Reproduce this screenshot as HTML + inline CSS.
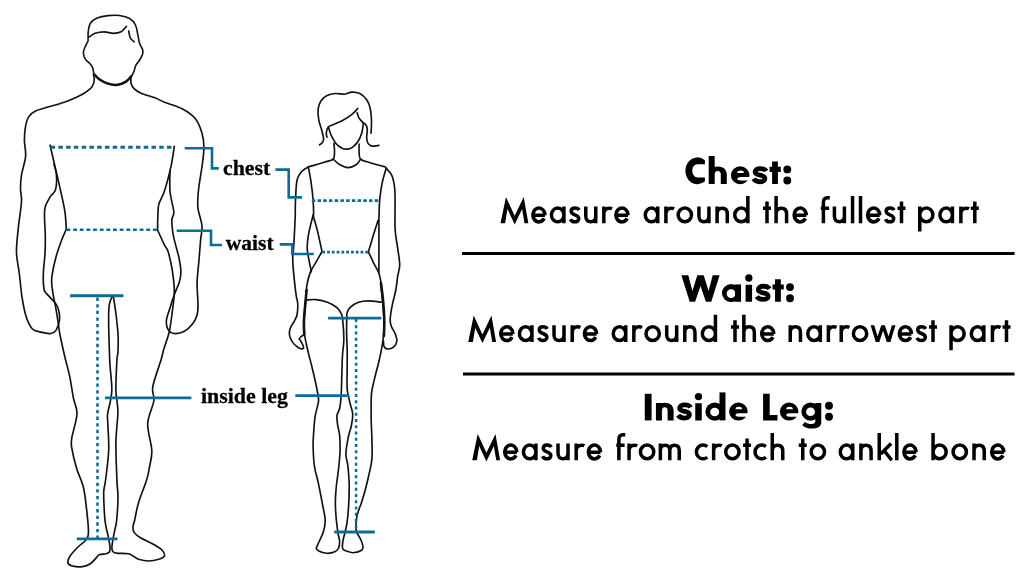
<!DOCTYPE html>
<html><head><meta charset="utf-8">
<style>
html,body{margin:0;padding:0;background:#fff;}
body{width:1024px;height:586px;overflow:hidden;position:relative;}
svg{position:absolute;left:0;top:0;will-change:transform;}
</style></head><body>
<svg width="1024" height="586" viewBox="0 0 1024 586">
<g fill="none" stroke="#111" stroke-linecap="round" stroke-linejoin="round">
<path d="M88.1,41.0C88.1,39.3 87.9,34.0 88.3,31.0C88.7,28.0 89.1,25.2 90.6,23.0C92.1,20.8 94.3,19.2 97.2,18.0C100.1,16.8 104.3,16.0 108.0,15.6C111.7,15.2 115.9,15.0 119.5,15.5C123.1,16.0 126.9,16.9 129.6,18.5C132.3,20.1 134.1,22.1 135.5,25.0C136.9,27.9 137.3,32.6 138.0,35.6C138.7,38.6 138.7,41.0 139.5,43.3C140.3,45.6 142.1,47.7 142.6,49.5C143.1,51.3 143.1,52.3 142.6,54.1C142.1,55.9 140.7,58.3 139.5,60.2C138.3,62.1 136.6,63.8 135.7,65.6C134.8,67.4 134.8,69.3 134.1,71.0C133.4,72.7 133.2,73.8 131.8,75.6C130.4,77.4 128.2,80.2 125.7,81.7C123.2,83.2 119.6,84.5 116.5,84.8C113.4,85.0 110.0,84.1 107.2,83.2C104.4,82.3 101.8,80.9 99.6,79.4C97.4,77.9 95.3,75.9 94.2,74.0C93.1,72.1 93.5,69.7 92.7,67.9C91.9,66.1 90.9,64.8 89.6,63.3C88.3,61.8 86.0,60.5 85.0,58.7C84.0,56.9 83.4,54.4 83.4,52.5C83.4,50.6 84.2,49.1 85.0,47.2C85.8,45.3 87.6,42.0 88.1,41.0" stroke-width="1.6"/>
<path d="M95.0,75.0C95.8,75.8 97.6,78.2 99.6,79.6C101.6,81.0 104.4,82.5 107.2,83.4C110.0,84.3 113.4,85.2 116.5,85.0C119.6,84.8 123.2,83.4 125.7,81.9C128.2,80.4 130.5,77.0 131.5,76.0" stroke-width="2.4"/>
<path d="M88.8,37.2C89.8,36.6 92.4,34.2 95.0,33.3C97.6,32.4 101.1,31.8 104.2,31.8C107.3,31.8 110.6,33.3 113.4,33.3C116.2,33.3 118.9,33.0 121.1,31.8C123.3,30.7 125.5,27.3 126.4,26.4" stroke-width="1.65"/>
<path d="M128.7,31.0C129.0,32.2 129.4,36.2 130.3,38.0C131.2,39.8 133.5,41.2 134.1,41.8" stroke-width="1.65"/>
<path d="M93.4,74.0C93.5,75.0 94.5,78.0 94.2,80.2C94.0,82.4 93.6,84.9 91.9,87.1C90.2,89.3 87.0,91.4 84.2,93.2C81.4,95.0 78.3,96.3 75.0,97.8C71.7,99.3 69.3,100.5 64.3,102.2C59.3,103.9 49.8,106.5 45.0,108.0C40.2,109.5 38.2,109.6 35.5,111.0C32.8,112.4 30.5,114.0 28.8,116.6C27.1,119.2 26.2,122.7 25.5,126.6C24.8,130.5 24.4,135.0 24.4,140.0C24.4,145.0 26.1,150.6 25.6,156.4C25.1,162.2 22.4,169.4 21.5,174.9C20.6,180.4 20.5,184.8 20.5,189.2C20.5,193.6 21.8,195.3 21.5,201.5C21.2,207.7 19.3,218.6 18.5,226.1C17.7,233.6 16.9,241.4 16.6,246.6C16.3,251.8 16.3,252.4 16.8,257.0C17.3,261.6 18.5,267.6 19.4,274.1C20.2,280.7 20.8,289.2 21.9,296.3C23.0,303.4 24.5,311.4 26.2,316.8C27.9,322.2 29.8,326.1 32.2,328.7C34.6,331.2 37.6,331.3 40.7,332.1C43.8,332.9 48.4,333.8 50.9,333.5C53.4,333.2 54.6,332.6 56.0,330.4C57.4,328.2 59.1,323.6 59.5,320.2C59.9,316.8 59.3,312.9 58.6,310.0C57.9,307.1 57.1,305.7 55.2,303.1C53.4,300.5 49.4,296.9 47.5,294.6C45.6,292.3 44.8,292.9 44.1,289.5C43.4,286.1 43.1,280.1 43.3,274.1C43.4,268.1 44.7,260.1 45.0,253.6C45.3,247.1 45.4,241.1 45.3,235.0C45.2,228.9 44.5,221.5 44.5,216.8C44.5,212.1 44.3,210.0 45.3,206.6C46.3,203.2 48.8,199.2 50.5,196.4C52.2,193.6 54.6,193.2 55.6,189.5C56.6,185.8 56.7,178.4 56.4,174.2C56.1,169.9 54.3,165.7 53.9,164.0" stroke-width="1.65"/>
<path d="M50.1,145.2C51.0,149.2 53.8,161.4 55.6,169.1C57.4,176.8 59.2,184.1 60.7,191.2C62.2,198.3 64.0,205.4 64.9,211.7C65.8,218.0 66.1,226.3 66.3,229.2C65.5,231.1 63.2,235.9 61.5,240.5C59.8,245.1 57.6,250.8 56.0,257.0C54.4,263.2 52.4,271.8 51.8,277.5C51.2,283.2 52.0,286.6 52.6,291.2C53.2,295.8 54.3,300.0 55.2,304.8C56.1,309.6 57.1,315.6 57.8,320.2C58.5,324.8 58.9,328.5 59.5,332.1C60.1,335.7 60.5,337.4 61.5,342.0C62.5,346.6 64.2,354.3 65.6,360.0C67.0,365.7 68.4,370.1 69.7,376.4C71.0,382.7 72.2,391.7 73.4,398.0C74.6,404.3 77.3,407.4 77.0,414.0C76.7,420.6 72.7,432.2 71.8,437.9C70.9,443.6 71.0,443.2 71.8,448.2C72.6,453.2 74.6,461.6 76.5,468.0C78.4,474.4 81.6,480.2 83.2,486.5C84.8,492.8 85.4,499.2 86.2,506.0C87.0,512.8 88.0,522.0 88.3,527.0C88.6,532.0 88.6,533.4 88.1,535.7C87.6,538.0 87.0,538.9 85.3,540.8C83.6,542.7 80.5,544.5 78.0,547.0C75.5,549.5 71.8,553.4 70.1,556.0C68.4,558.6 67.5,561.0 67.9,562.7C68.3,564.4 70.0,565.4 72.4,566.0C74.8,566.6 79.5,567.0 82.5,566.6C85.5,566.2 88.1,565.2 90.3,563.8C92.5,562.4 94.4,559.7 95.9,558.2C97.4,556.7 97.6,555.5 99.3,554.8C101.0,554.0 104.3,554.2 106.0,553.7C107.7,553.2 108.7,553.1 109.4,552.0C110.1,550.9 110.2,549.5 110.0,547.0C109.8,544.5 109.0,540.2 108.3,536.8C107.6,533.4 106.6,530.0 106.0,526.7C105.4,523.4 105.1,522.9 104.7,517.2C104.3,511.5 103.6,498.8 103.7,492.6C103.8,486.4 104.8,487.1 105.6,480.0C106.4,472.9 108.3,459.9 108.7,450.2C109.1,440.4 107.9,427.6 107.7,421.5C107.5,415.4 107.0,418.4 107.7,413.3C108.4,408.2 111.5,399.7 111.8,390.8C112.1,381.9 110.2,373.2 109.7,360.0C109.2,346.8 108.4,322.0 108.7,311.5C109.0,301.0 111.0,299.2 111.8,297.2C112.6,295.1 112.8,293.4 113.8,299.2C114.8,305.0 117.2,323.1 117.9,332.0C118.6,340.9 118.1,347.8 117.9,352.5C117.7,357.2 117.2,353.6 116.9,360.0C116.6,366.4 115.7,382.2 115.9,390.8C116.1,399.4 117.9,402.8 117.9,411.3C117.9,419.8 116.1,430.6 115.9,442.0C115.7,453.4 116.6,470.9 116.9,480.0C117.2,489.1 118.0,490.0 118.0,496.7C118.0,503.4 117.2,514.6 116.7,520.0C116.2,525.4 115.7,525.6 115.0,529.0C114.3,532.4 113.3,537.0 112.8,540.2C112.3,543.4 111.9,546.2 111.9,548.1C111.9,550.0 112.1,550.6 112.8,551.4C113.5,552.2 113.6,552.7 116.2,553.1C118.8,553.5 125.7,553.2 128.5,553.7C131.3,554.2 131.3,555.0 133.0,555.9C134.7,556.8 136.0,558.4 138.6,559.3C141.2,560.1 145.3,561.0 148.7,561.0C152.1,561.0 156.2,560.1 158.8,559.3C161.4,558.4 163.8,557.4 164.4,555.9C165.0,554.4 163.9,552.2 162.2,550.3C160.5,548.4 157.9,546.8 154.3,544.7C150.8,542.7 144.3,540.0 140.9,538.0C137.5,536.0 135.4,534.3 134.1,532.4C132.8,530.5 132.9,528.8 133.0,526.7C133.1,524.6 133.8,524.0 134.7,520.0C135.6,516.0 136.5,509.5 138.5,502.8C140.5,496.1 144.7,486.1 146.6,480.0C148.5,473.9 148.8,471.0 149.7,466.0C150.6,461.0 152.1,457.3 151.8,450.2C151.5,443.1 147.4,431.8 147.7,423.6C148.0,415.4 153.0,407.1 153.8,401.0C154.7,394.9 151.6,393.5 152.8,386.7C154.0,379.9 159.1,366.4 161.0,360.0C162.9,353.6 162.6,353.1 164.0,348.4C165.4,343.7 167.8,338.1 169.2,332.0C170.6,325.9 171.5,318.3 172.3,311.5C173.2,304.7 174.3,297.8 174.3,291.0C174.3,284.2 173.3,277.0 172.3,270.5C171.3,264.0 169.5,256.3 168.2,252.0C166.9,247.7 166.2,248.6 164.4,244.9C162.6,241.2 158.7,232.5 157.6,230.0C157.6,227.9 157.6,221.8 157.8,217.5C158.0,213.2 157.7,208.8 158.8,204.4C159.9,200.0 162.4,197.6 164.4,191.3C166.4,185.1 169.2,174.4 170.9,166.9C172.6,159.4 173.7,149.7 174.3,146.3" stroke-width="1.65"/>
<path d="M131.0,77.1C131.0,78.1 130.5,81.3 131.0,83.2C131.5,85.1 132.4,86.9 134.1,88.6C135.8,90.3 137.5,91.7 141.0,93.2C144.5,94.7 151.1,96.3 155.0,97.8C158.9,99.3 159.9,100.4 164.4,102.2C168.9,104.0 176.9,106.0 182.1,108.8C187.3,111.6 192.1,114.7 195.4,118.8C198.7,122.9 200.6,128.6 202.0,133.2C203.4,137.8 203.8,141.5 203.9,146.5C204.0,151.5 203.4,155.8 202.5,163.0C201.6,170.2 199.3,182.6 198.5,190.0C197.7,197.4 197.3,201.7 197.9,207.7C198.5,213.7 201.6,220.7 202.0,226.1C202.4,231.5 201.1,234.0 200.6,240.0C200.1,246.0 199.4,255.1 198.8,262.2C198.2,269.3 197.2,275.5 197.1,282.6C197.0,289.7 198.0,299.4 198.0,304.8C198.0,310.2 197.9,312.0 197.1,315.1C196.2,318.2 195.0,320.9 192.9,323.6C190.8,326.3 187.5,329.7 184.4,331.3C181.3,332.9 176.8,333.8 174.1,333.5C171.4,333.2 169.4,331.8 168.1,329.6C166.8,327.4 166.1,323.8 166.4,320.2C166.7,316.6 168.5,312.8 169.9,308.2C171.3,303.6 173.4,297.2 175.0,292.9C176.6,288.6 178.2,286.0 179.2,282.6C180.2,279.2 180.9,276.4 180.9,272.4C180.9,268.4 180.1,263.4 179.2,258.8C178.3,254.2 176.7,249.3 175.6,244.9C174.5,240.5 173.4,236.8 172.8,232.5C172.2,228.2 171.7,222.8 171.9,219.4C172.1,216.0 174.1,216.6 173.8,211.9C173.5,207.2 170.6,198.2 170.0,191.3C169.4,184.4 170.0,174.1 170.0,170.6" stroke-width="1.65"/>
<path d="M319.5,144.8C319.9,144.5 321.5,143.7 322.2,142.7C322.9,141.7 323.7,140.8 323.6,138.6C323.5,136.4 322.4,132.8 321.6,129.7C320.8,126.6 319.4,123.6 318.8,120.2C318.2,116.8 317.8,112.4 318.1,109.2C318.5,106.0 319.4,103.3 320.9,101.0C322.4,98.7 324.6,96.8 327.0,95.6C329.4,94.3 332.2,93.7 335.2,93.5C338.2,93.3 342.1,94.4 344.8,94.2C347.5,94.0 349.1,92.2 351.6,92.1C354.1,92.0 357.3,92.2 359.8,93.5C362.3,94.8 365.0,97.3 366.7,99.7C368.4,102.1 369.3,104.7 370.1,107.9C370.9,111.1 371.2,115.6 371.4,118.8C371.6,122.0 371.5,124.6 371.4,127.0C371.3,129.4 371.1,132.1 371.0,133.1" stroke-width="1.65"/>
<path d="M357.8,108.5C356.8,109.5 354.2,112.7 351.6,114.7C349.0,116.8 345.3,119.1 342.1,120.8C338.9,122.5 334.8,123.9 332.5,124.9C330.2,125.9 329.3,126.2 328.4,127.0C327.5,127.8 327.4,128.6 327.0,129.7C326.6,130.8 326.3,132.6 326.3,133.8C326.3,135.1 326.9,136.6 327.0,137.2" stroke-width="1.65"/>
<path d="M328.4,127.0C328.8,128.4 329.9,132.5 331.1,135.2C332.4,137.9 334.1,141.2 335.9,143.4C337.7,145.6 340.2,147.2 342.1,148.2C344.0,149.1 345.7,149.3 347.5,149.1C349.3,148.9 351.2,148.2 353.0,146.8C354.8,145.4 357.0,143.1 358.5,140.7C360.0,138.3 361.1,135.2 361.9,132.5C362.7,129.8 363.0,125.9 363.2,124.3C363.4,122.7 363.9,123.9 363.2,122.9C362.5,121.9 360.1,119.8 359.1,118.1C358.1,116.4 357.4,113.5 357.1,112.6" stroke-width="1.65"/>
<path d="M363.2,122.9C363.7,123.2 365.3,123.9 366.0,125.0C366.7,126.1 367.2,127.5 367.3,129.7C367.4,131.8 366.6,135.6 366.7,137.9C366.8,140.2 367.1,142.0 368.0,143.4C368.9,144.8 370.3,145.8 372.1,146.1C373.9,146.4 377.8,145.5 378.9,145.4" stroke-width="1.65"/>
<path d="M333.9,143.4C334.0,144.8 334.6,149.0 334.5,151.6C334.4,154.2 334.8,157.4 333.2,159.1C331.6,160.8 328.5,160.9 325.0,162.0C321.5,163.1 314.8,165.1 312.0,165.9C309.2,166.7 310.1,165.9 308.3,166.9C306.5,167.9 303.2,169.6 301.4,171.7C299.6,173.8 298.2,176.1 297.3,179.2C296.4,182.3 296.3,185.5 296.0,190.1C295.7,194.7 295.4,202.0 295.3,206.5C295.2,211.0 295.4,212.4 295.2,217.0C295.0,221.6 294.7,228.7 294.4,234.1C294.1,239.5 293.8,245.4 293.5,249.4C293.2,253.4 292.7,254.3 292.7,258.0C292.7,261.7 292.9,265.4 293.5,271.6C294.1,277.8 295.4,289.7 296.1,295.0C296.8,300.3 297.5,299.9 297.7,303.2C297.9,306.4 297.6,311.6 297.1,314.5C296.6,317.4 295.7,318.4 294.6,320.6C293.5,322.8 291.4,325.4 290.5,327.8C289.6,330.2 289.2,332.6 289.5,335.0C289.8,337.4 291.1,340.1 292.5,342.1C293.9,344.1 296.0,346.1 297.7,347.2C299.4,348.3 301.9,349.0 302.8,348.8C303.7,348.6 303.7,347.6 303.3,346.2C302.9,344.8 300.9,341.3 300.2,340.1C299.5,338.9 299.1,339.5 299.2,339.0C299.3,338.5 299.8,337.9 300.7,337.0C301.6,336.1 304.1,334.4 304.8,333.9" stroke-width="1.65"/>
<path d="M308.3,166.9C308.8,169.4 310.2,176.4 311.0,181.9C311.8,187.4 312.7,194.7 313.1,200.0C313.5,205.3 313.6,211.0 313.6,213.6C313.6,216.2 313.2,215.0 313.1,215.3" stroke-width="1.65"/>
<path d="M333.2,159.1C334.2,160.0 337.1,163.1 339.5,164.5C341.9,165.9 345.1,167.5 347.9,167.6C350.7,167.7 354.0,166.2 356.1,164.8C358.2,163.4 359.8,160.1 360.5,159.1" stroke-width="1.65"/>
<path d="M359.1,144.1C359.1,145.3 358.9,149.1 359.1,151.6C359.3,154.1 358.8,157.3 360.5,159.1C362.2,160.9 365.5,161.2 369.4,162.5C373.3,163.8 381.2,165.7 384.0,166.6C386.8,167.5 384.9,166.8 386.2,168.2C387.5,169.6 390.3,172.1 391.7,175.1C393.1,178.1 393.8,181.8 394.4,186.0C395.0,190.2 395.0,192.8 395.1,200.0C395.2,207.2 394.7,221.1 395.1,229.0C395.5,236.9 396.8,241.7 397.6,247.7C398.4,253.7 399.7,260.0 399.7,264.8C399.7,269.6 398.2,272.5 397.6,276.7C397.0,280.9 396.7,285.2 395.8,290.0C394.9,294.8 393.1,300.6 392.2,305.4C391.3,310.2 390.4,315.3 390.2,318.7C390.0,322.1 390.3,323.3 391.2,325.9C392.1,328.4 394.4,331.4 395.3,334.0C396.2,336.6 397.2,339.0 396.9,341.2C396.6,343.4 394.9,346.1 393.3,347.4C391.7,348.7 388.7,349.1 387.1,348.9C385.6,348.7 384.6,347.6 384.0,346.3C383.4,345.0 383.6,342.1 383.5,341.2" stroke-width="1.65"/>
<path d="M386.2,168.2C385.5,170.7 383.2,178.0 382.1,183.3C381.0,188.6 380.2,194.1 379.7,200.0C379.2,205.9 379.1,215.3 378.9,218.7C378.7,222.1 378.6,220.2 378.5,220.5" stroke-width="1.65"/>
<path d="M313.1,215.3C313.8,217.9 315.9,224.7 317.4,230.7C318.9,236.7 321.2,248.0 322.0,251.5C321.1,253.2 318.4,258.0 316.5,261.4C314.6,264.8 312.2,267.9 310.6,271.6C309.1,275.3 308.0,279.6 307.2,283.5C306.4,287.4 306.3,291.4 306.0,295.0C305.7,298.6 305.6,301.8 305.3,305.2C305.0,308.6 304.6,312.1 304.3,315.5C304.1,318.9 303.7,322.3 303.8,325.7C303.9,329.1 304.4,332.9 304.8,336.0C305.2,339.1 305.7,341.0 306.4,344.2C307.1,347.4 307.9,350.9 308.9,355.0C309.9,359.1 311.0,362.8 312.4,368.7C313.8,374.6 316.2,385.0 317.2,390.5C318.2,396.0 318.9,397.2 318.5,401.5C318.1,405.8 315.9,410.9 315.1,416.5C314.3,422.1 313.8,430.2 313.5,435.0C313.2,439.8 313.0,440.3 313.1,445.5C313.2,450.7 313.5,459.6 314.4,466.0C315.3,472.4 317.1,477.2 318.5,483.8C319.9,490.4 321.6,499.5 322.7,505.5C323.8,511.5 325.1,515.5 325.2,519.9C325.3,524.3 324.5,528.0 323.4,531.8C322.3,535.6 319.9,539.7 318.7,542.5C317.5,545.3 316.1,547.0 316.3,548.5C316.5,550.0 318.1,550.7 319.9,551.5C321.7,552.3 324.6,553.2 327.0,553.3C329.4,553.4 332.3,552.9 334.2,552.1C336.1,551.3 337.5,550.3 338.4,548.5C339.3,546.7 339.7,544.2 339.6,541.4C339.5,538.6 338.4,536.0 337.8,531.8C337.2,527.6 336.4,521.3 336.0,516.3C335.6,511.3 335.3,506.9 335.4,501.9C335.4,496.9 335.8,491.8 336.3,486.5C336.8,481.2 337.8,475.8 338.4,470.1C339.0,464.4 339.8,458.0 340.0,452.3C340.2,446.6 340.1,440.6 339.7,435.9C339.3,431.2 337.9,427.4 337.5,424.0C337.1,420.6 336.6,417.8 337.0,415.2C337.4,412.6 339.0,411.5 339.7,408.3C340.4,405.1 340.8,401.5 341.1,396.0C341.5,390.5 341.6,382.3 341.8,375.5C342.0,368.7 342.2,360.7 342.5,355.0C342.8,349.3 343.7,346.0 343.8,341.1C343.9,336.2 343.6,330.1 343.2,325.7C342.8,321.3 342.8,317.6 341.7,314.5C340.6,311.4 339.0,309.4 336.6,307.3C334.2,305.2 330.8,303.5 327.4,302.2C324.0,300.9 319.6,300.0 316.1,299.6C312.6,299.2 308.0,300.0 306.4,300.1" stroke-width="1.65"/>
<path d="M382.0,302.3C379.8,302.1 372.6,300.8 368.7,300.8C364.8,300.8 361.5,301.2 358.4,302.3C355.3,303.4 352.1,305.7 350.2,307.4C348.3,309.1 347.8,310.9 347.2,312.5C346.6,314.1 346.9,313.6 346.8,317.0C346.7,320.4 346.5,327.4 346.6,332.9C346.7,338.4 347.1,344.6 347.2,350.0C347.3,355.4 347.2,358.5 347.2,365.0C347.2,371.5 346.7,382.9 347.2,389.2C347.7,395.5 349.1,398.8 350.0,402.9C350.9,407.0 352.4,410.1 352.7,413.8C352.9,417.5 352.2,421.1 351.5,425.0C350.8,428.9 349.2,432.2 348.3,437.0C347.4,441.8 346.0,448.9 345.9,453.7C345.8,458.5 347.3,460.8 347.9,466.0C348.4,471.2 349.1,478.0 349.2,485.0C349.3,492.0 348.9,501.3 348.5,507.9C348.1,514.5 347.6,519.2 346.7,524.6C345.8,530.0 343.8,536.2 343.1,540.2C342.4,544.2 342.1,546.7 342.6,548.5C343.1,550.3 344.3,550.2 346.1,550.9C347.9,551.6 350.7,552.8 353.3,552.7C355.9,552.6 360.1,551.4 361.7,550.3C363.3,549.2 363.1,548.0 362.9,546.1C362.7,544.2 361.6,541.6 360.5,539.0C359.4,536.4 356.9,534.4 356.3,530.6C355.7,526.8 356.0,521.1 356.9,516.3C357.8,511.5 360.3,506.3 361.7,501.9C363.1,497.5 364.1,494.1 365.2,490.0C366.3,485.9 367.3,482.1 368.4,477.0C369.5,471.9 371.3,465.6 371.9,459.2C372.5,452.8 372.0,445.2 371.9,438.7C371.8,432.2 371.3,426.4 371.2,420.0C371.1,413.6 371.1,405.0 371.2,400.1C371.3,395.2 371.2,394.6 371.9,390.5C372.6,386.4 374.3,379.8 375.3,375.5C376.3,371.2 377.1,368.7 378.0,365.0C378.9,361.3 379.8,358.2 380.7,353.4C381.6,348.6 382.9,341.6 383.5,336.1C384.1,330.7 384.1,325.8 384.0,320.7C383.9,315.6 383.4,310.5 383.0,305.4C382.6,300.3 381.7,293.4 381.4,290.0C381.1,286.6 381.8,288.0 381.4,285.2C381.0,282.4 380.2,277.0 378.9,273.3C377.6,269.6 375.4,266.7 373.7,263.1C371.9,259.5 369.3,253.7 368.4,251.8C369.3,248.9 372.1,239.3 373.7,234.1C375.3,228.9 377.3,222.8 378.0,220.5" stroke-width="1.65"/>
<path d="M306.6,290.0C306.4,292.0 305.9,298.2 305.5,302.0C305.1,305.8 304.8,309.5 304.5,313.0C304.2,316.5 303.9,319.7 303.9,323.0C303.8,326.3 304.1,331.3 304.2,333.0" stroke-width="2.6"/>
<path d="M380.9,283.0C381.2,285.2 382.1,291.5 382.6,296.0C383.1,300.5 383.5,305.7 383.8,310.0C384.1,314.3 384.3,317.7 384.3,322.0C384.3,326.3 384.0,333.7 383.9,336.0" stroke-width="2.6"/>
<path d="M313.1,215.3C312.4,218.2 309.9,227.0 308.9,232.4C307.9,237.8 307.2,243.1 307.2,247.7C307.2,252.2 308.2,255.7 308.9,259.7C309.6,263.7 311.0,269.6 311.4,271.6" stroke-width="1.65"/>
<path d="M378.9,220.5C378.9,224.2 378.9,233.8 378.9,242.6C378.9,251.4 378.9,268.2 378.9,273.3" stroke-width="1.65"/>
</g>
<line x1="50.60" y1="147.20" x2="173.30" y2="147.20" stroke="#0c6c98" stroke-width="2.9" stroke-dasharray="4.5 3.26"/>
<line x1="66.50" y1="229.70" x2="157.90" y2="229.70" stroke="#0c6c98" stroke-width="2.5" stroke-dasharray="3.85 2.8"/>
<path d="M184.7,148.3H212V168.4H218.8" fill="none" stroke="#0c6c98" stroke-width="2.6" stroke-linejoin="miter" stroke-linecap="butt"/>
<path d="M176.7,230.8H211V245H222" fill="none" stroke="#0c6c98" stroke-width="2.6" stroke-linejoin="miter" stroke-linecap="butt"/>
<path d="M70.1,295.75H123.4" fill="none" stroke="#0c6c98" stroke-width="2.9" stroke-linejoin="miter" stroke-linecap="butt"/>
<line x1="97.50" y1="297.60" x2="97.50" y2="538.00" stroke="#0c6c98" stroke-width="2.6" stroke-dasharray="3.3 3.31"/>
<path d="M105,397.8H191.4" fill="none" stroke="#0c6c98" stroke-width="2.8" stroke-linejoin="miter" stroke-linecap="butt"/>
<path d="M76.8,538.9H117.5" fill="none" stroke="#0c6c98" stroke-width="2.8" stroke-linejoin="miter" stroke-linecap="butt"/>
<path d="M275.4,169.6H288.7V197.4H302.1" fill="none" stroke="#0c6c98" stroke-width="2.6" stroke-linejoin="miter" stroke-linecap="butt"/>
<line x1="311.80" y1="200.60" x2="378.70" y2="200.60" stroke="#0c6c98" stroke-width="2.6" stroke-dasharray="3.5 2.22"/>
<path d="M279.7,244.4H292.3V254H313.8" fill="none" stroke="#0c6c98" stroke-width="2.6" stroke-linejoin="miter" stroke-linecap="butt"/>
<line x1="322.30" y1="252.10" x2="368.40" y2="252.10" stroke="#0c6c98" stroke-width="2.7" stroke-dasharray="2.8 1.98"/>
<path d="M328.1,318.2H381.4" fill="none" stroke="#0c6c98" stroke-width="2.8" stroke-linejoin="miter" stroke-linecap="butt"/>
<line x1="356.10" y1="318.95" x2="356.10" y2="531.00" stroke="#0c6c98" stroke-width="2.5" stroke-dasharray="3.1 3.15"/>
<path d="M295.3,395.6H349.3" fill="none" stroke="#0c6c98" stroke-width="2.8" stroke-linejoin="miter" stroke-linecap="butt"/>
<path d="M334.2,532H374.8" fill="none" stroke="#0c6c98" stroke-width="2.8" stroke-linejoin="miter" stroke-linecap="butt"/>
<text x="223" y="174.7" font-family="'Liberation Serif', serif" font-size="22" font-weight="bold" textLength="47.3" lengthAdjust="spacingAndGlyphs" fill="#000" stroke="#000" stroke-width="0.3">chest</text>
<text x="225.8" y="249.9" font-family="'Liberation Serif', serif" font-size="22" font-weight="bold" textLength="47.8" lengthAdjust="spacingAndGlyphs" fill="#000" stroke="#000" stroke-width="0.3">waist</text>
<text x="200.9" y="402.9" font-family="'Liberation Serif', serif" font-size="22" font-weight="bold" textLength="87" lengthAdjust="spacingAndGlyphs" fill="#000" stroke="#000" stroke-width="0.3">inside leg</text>
<path transform="translate(685.40,184.10)" d="M19.5,-23.8A12,13.45 0 1 0 19.5,-2.8V-6.65H12A5.2,6.65 0 0 1 12,-19.95H19.5Z" fill="#000"/><path transform="translate(708.70,184.10)" d="M0.00,-28.00H6.00V0.00H0.00ZM12.10,-9.50H18.10V0.00H12.10ZM0.00,-9.50C0.00,-14.90 3.62,-17.70 9.05,-17.70C14.48,-17.70 18.10,-14.90 18.10,-9.50H12.10C12.10,-11.80 11.19,-13.20 9.05,-13.20C6.92,-13.20 6.00,-11.80 6.00,-9.50Z" fill="#000"/><path transform="translate(730.90,184.10)" d="M0.00,-8.85a9.30,9.00 0 1 0 18.60,0a9.30,9.00 0 1 0 -18.60,0Z" fill="#000"/><path transform="translate(730.90,184.10)" d="M6.4,-11.2A3.3,2.4 0 0 1 13.0,-11.2Z" fill="#fff"/><path transform="translate(730.90,184.10)" d="M9.7,-7.1H18.9V-3.7H9.7A3.3,1.7 0 0 1 9.7,-7.1Z" fill="#fff"/><path transform="translate(752.40,184.10)" d="M13.7,-13.0C12.7,-14.8 10.7,-15.55 7.8,-15.55C4.6,-15.55 2.7,-14.2 2.7,-12.3C2.7,-10.2 4.7,-9.5 7.5,-8.95C10.5,-8.4 12.5,-7.8 12.5,-5.6C12.5,-3.4 10.5,-2.35 7.3,-2.35C4.5,-2.35 2.4,-3.4 1.2,-5.3" fill="none" stroke="#000" stroke-width="4.8"/><path transform="translate(769.60,184.10)" d="M2.50,-22.60H8.30V0.00H2.50ZM0.00,-17.30H11.20V-12.20H0.00Z" fill="#000"/><path transform="translate(783.30,184.10)" d="M0.05,-14.70a3.95,3.95 0 1 0 7.90,0a3.95,3.95 0 1 0 -7.90,0ZM0.05,-3.60a3.95,3.95 0 1 0 7.90,0a3.95,3.95 0 1 0 -7.90,0Z" fill="#000"/>
<path transform="translate(500.50,223.30)" d="M0,0L5.46,-26.4L14.16,-7.6L23.2,-26.4L27.84,0L24.0,0L21.6,-14.2L14.16,1.1L6.95,-14.2L4.64,0Z" fill="#000"/><path transform="translate(531.21,223.30)" d="M1.75,-8.00H13.73M13.73,-8.00A6.00,6.90 0 1 0 12.95,-4.90" fill="none" stroke="#000" stroke-width="3.5" stroke-linecap="butt" stroke-linejoin="miter" stroke-miterlimit="6"/><path transform="translate(549.68,223.30)" d="M1.75,-8.35A6.25,6.90 0 1 0 14.25,-8.35A6.25,6.90 0 1 0 1.75,-8.35ZM14.25,-16.70V0.00" fill="none" stroke="#000" stroke-width="3.5" stroke-linecap="butt" stroke-linejoin="miter" stroke-miterlimit="6"/><path transform="translate(569.25,223.30)" d="M9.9,-13.2C9.1,-14.6 7.6,-15.25 5.7,-15.25C3.4,-15.25 1.9,-13.9 1.9,-12.0C1.9,-9.8 3.9,-9.1 5.6,-8.5C7.6,-7.8 9.5,-7 9.5,-4.7C9.5,-2.6 7.8,-1.45 5.5,-1.45C3.5,-1.45 1.9,-2.5 1.2,-4.1" fill="none" stroke="#000" stroke-width="3.5" stroke-linecap="butt" stroke-linejoin="miter" stroke-miterlimit="6"/><path transform="translate(584.01,223.30)" d="M1.75,-16.70V-7.20M1.75,-7.20C1.75,-2.96 4.00,-1.55 6.75,-1.55C9.50,-1.55 11.75,-2.96 11.75,-7.20M11.75,-16.70V0.00" fill="none" stroke="#000" stroke-width="3.5" stroke-linecap="butt" stroke-linejoin="miter" stroke-miterlimit="6"/><path transform="translate(602.08,223.30)" d="M1.75,-16.70V0.00M1.75,-10.00C2.05,-13.60 4.20,-15.15 7.00,-15.15C8.10,-15.15 9.00,-15.00 9.90,-14.50" fill="none" stroke="#000" stroke-width="3.5" stroke-linecap="butt" stroke-linejoin="miter" stroke-miterlimit="6"/><path transform="translate(614.25,223.30)" d="M1.75,-8.00H13.73M13.73,-8.00A6.00,6.90 0 1 0 12.95,-4.90" fill="none" stroke="#000" stroke-width="3.5" stroke-linecap="butt" stroke-linejoin="miter" stroke-miterlimit="6"/>
<path transform="translate(643.50,223.30)" d="M1.75,-8.35A6.25,6.90 0 1 0 14.25,-8.35A6.25,6.90 0 1 0 1.75,-8.35ZM14.25,-16.70V0.00" fill="none" stroke="#000" stroke-width="3.5" stroke-linecap="butt" stroke-linejoin="miter" stroke-miterlimit="6"/><path transform="translate(664.16,223.30)" d="M1.75,-16.70V0.00M1.75,-10.00C2.05,-13.60 4.20,-15.15 7.00,-15.15C8.10,-15.15 9.00,-15.00 9.90,-14.50" fill="none" stroke="#000" stroke-width="3.5" stroke-linecap="butt" stroke-linejoin="miter" stroke-miterlimit="6"/><path transform="translate(676.42,223.30)" d="M1.75,-8.35A6.65,6.90 0 1 0 15.05,-8.35A6.65,6.90 0 1 0 1.75,-8.35Z" fill="none" stroke="#000" stroke-width="3.5" stroke-linecap="butt" stroke-linejoin="miter" stroke-miterlimit="6"/><path transform="translate(697.18,223.30)" d="M1.75,-16.70V-7.20M1.75,-7.20C1.75,-2.96 4.00,-1.55 6.75,-1.55C9.50,-1.55 11.75,-2.96 11.75,-7.20M11.75,-16.70V0.00" fill="none" stroke="#000" stroke-width="3.5" stroke-linecap="butt" stroke-linejoin="miter" stroke-miterlimit="6"/><path transform="translate(715.34,223.30)" d="M1.75,-16.70V0.00M1.75,-9.50C1.75,-13.74 4.04,-15.15 6.85,-15.15C9.65,-15.15 11.95,-13.74 11.95,-9.50M11.95,-9.50V0.00" fill="none" stroke="#000" stroke-width="3.5" stroke-linecap="butt" stroke-linejoin="miter" stroke-miterlimit="6"/><path transform="translate(733.00,223.30)" d="M1.75,-8.35A6.55,6.90 0 1 0 14.85,-8.35A6.55,6.90 0 1 0 1.75,-8.35ZM14.85,-27.30V0.00" fill="none" stroke="#000" stroke-width="3.5" stroke-linecap="butt" stroke-linejoin="miter" stroke-miterlimit="6"/>
<path transform="translate(763.00,223.30)" d="M4.00,-21.80V0.00M0.00,-14.95H8.00" fill="none" stroke="#000" stroke-width="3.5" stroke-linecap="butt" stroke-linejoin="miter" stroke-miterlimit="6"/><path transform="translate(774.35,223.30)" d="M1.75,-27.30V0.00M1.75,-9.50C1.75,-13.74 4.11,-15.15 7.00,-15.15C9.89,-15.15 12.25,-13.74 12.25,-9.50M12.25,-9.50V0.00" fill="none" stroke="#000" stroke-width="3.5" stroke-linecap="butt" stroke-linejoin="miter" stroke-miterlimit="6"/><path transform="translate(792.50,223.30)" d="M1.75,-8.00H13.73M13.73,-8.00A6.00,6.90 0 1 0 12.95,-4.90" fill="none" stroke="#000" stroke-width="3.5" stroke-linecap="butt" stroke-linejoin="miter" stroke-miterlimit="6"/>
<path transform="translate(820.50,223.30)" d="M2.9,0V-20.5C2.9,-24 4.3,-25.55 6.8,-25.55H9.3M0.30,-14.95H8.60" fill="none" stroke="#000" stroke-width="3.5" stroke-linecap="butt" stroke-linejoin="miter" stroke-miterlimit="6"/><path transform="translate(832.65,223.30)" d="M1.75,-16.70V-7.20M1.75,-7.20C1.75,-2.96 4.00,-1.55 6.75,-1.55C9.50,-1.55 11.75,-2.96 11.75,-7.20M11.75,-16.70V0.00" fill="none" stroke="#000" stroke-width="3.5" stroke-linecap="butt" stroke-linejoin="miter" stroke-miterlimit="6"/><path transform="translate(850.80,223.30)" d="M1.75,-27.30V0.00" fill="none" stroke="#000" stroke-width="3.5" stroke-linecap="butt" stroke-linejoin="miter" stroke-miterlimit="6"/><path transform="translate(858.75,223.30)" d="M1.75,-27.30V0.00" fill="none" stroke="#000" stroke-width="3.5" stroke-linecap="butt" stroke-linejoin="miter" stroke-miterlimit="6"/><path transform="translate(866.00,223.30)" d="M1.75,-8.00H13.73M13.73,-8.00A6.00,6.90 0 1 0 12.95,-4.90" fill="none" stroke="#000" stroke-width="3.5" stroke-linecap="butt" stroke-linejoin="miter" stroke-miterlimit="6"/><path transform="translate(884.25,223.30)" d="M9.9,-13.2C9.1,-14.6 7.6,-15.25 5.7,-15.25C3.4,-15.25 1.9,-13.9 1.9,-12.0C1.9,-9.8 3.9,-9.1 5.6,-8.5C7.6,-7.8 9.5,-7 9.5,-4.7C9.5,-2.6 7.8,-1.45 5.5,-1.45C3.5,-1.45 1.9,-2.5 1.2,-4.1" fill="none" stroke="#000" stroke-width="3.5" stroke-linecap="butt" stroke-linejoin="miter" stroke-miterlimit="6"/><path transform="translate(897.50,223.30)" d="M4.00,-21.80V0.00M0.00,-14.95H8.00" fill="none" stroke="#000" stroke-width="3.5" stroke-linecap="butt" stroke-linejoin="miter" stroke-miterlimit="6"/>
<path transform="translate(918.00,223.30)" d="M1.75,-16.70V8.30M1.75,-8.35A6.55,6.90 0 1 0 14.85,-8.35A6.55,6.90 0 1 0 1.75,-8.35Z" fill="none" stroke="#000" stroke-width="3.5" stroke-linecap="butt" stroke-linejoin="miter" stroke-miterlimit="6"/><path transform="translate(938.17,223.30)" d="M1.75,-8.35A6.25,6.90 0 1 0 14.25,-8.35A6.25,6.90 0 1 0 1.75,-8.35ZM14.25,-16.70V0.00" fill="none" stroke="#000" stroke-width="3.5" stroke-linecap="butt" stroke-linejoin="miter" stroke-miterlimit="6"/><path transform="translate(959.13,223.30)" d="M1.75,-16.70V0.00M1.75,-10.00C2.05,-13.60 4.20,-15.15 7.00,-15.15C8.10,-15.15 9.00,-15.00 9.90,-14.50" fill="none" stroke="#000" stroke-width="3.5" stroke-linecap="butt" stroke-linejoin="miter" stroke-miterlimit="6"/><path transform="translate(970.80,223.30)" d="M4.00,-21.80V0.00M0.00,-14.95H8.00" fill="none" stroke="#000" stroke-width="3.5" stroke-linecap="butt" stroke-linejoin="miter" stroke-miterlimit="6"/>
<path transform="translate(681.40,301.80)" d="M0,-26.6H6.9L11.0,-10.8L15.9,-26.6H22.3L27.2,-10.8L31.3,-26.6H38.2L29.9,0H24.5L19.1,-15.8L13.7,0H8.3Z" fill="#000"/><path transform="translate(721.94,301.80)" d="M0.00,-8.75a9.20,9.05 0 1 0 18.40,0a9.20,9.05 0 1 0 -18.40,0Z" fill="#000"/><path transform="translate(721.94,301.80)" d="M4.70,-8.20a4.45,4.30 0 1 0 8.90,0a4.45,4.30 0 1 0 -8.90,0Z" fill="#fff"/><path transform="translate(721.94,301.80)" d="M13.10,-17.40H19.10V0.00H13.10Z" fill="#000"/><path transform="translate(745.58,301.80)" d="M0.00,-17.10H6.50V0.00H0.00ZM-0.40,-23.80a3.65,3.65 0 1 0 7.30,0a3.65,3.65 0 1 0 -7.30,0Z" fill="#000"/><path transform="translate(755.62,301.80)" d="M13.7,-13.0C12.7,-14.8 10.7,-15.55 7.8,-15.55C4.6,-15.55 2.7,-14.2 2.7,-12.3C2.7,-10.2 4.7,-9.5 7.5,-8.95C10.5,-8.4 12.5,-7.8 12.5,-5.6C12.5,-3.4 10.5,-2.35 7.3,-2.35C4.5,-2.35 2.4,-3.4 1.2,-5.3" fill="none" stroke="#000" stroke-width="4.8"/><path transform="translate(772.56,301.80)" d="M2.50,-22.60H8.30V0.00H2.50ZM0.00,-17.30H11.20V-12.20H0.00Z" fill="#000"/><path transform="translate(786.00,301.80)" d="M0.05,-14.70a3.95,3.95 0 1 0 7.90,0a3.95,3.95 0 1 0 -7.90,0ZM0.05,-3.60a3.95,3.95 0 1 0 7.90,0a3.95,3.95 0 1 0 -7.90,0Z" fill="#000"/>
<path transform="translate(468.25,342.00)" d="M0,0L5.46,-26.4L14.16,-7.6L23.2,-26.4L27.84,0L24.0,0L21.6,-14.2L14.16,1.1L6.95,-14.2L4.64,0Z" fill="#000"/><path transform="translate(499.08,342.00)" d="M1.75,-8.00H13.73M13.73,-8.00A6.00,6.90 0 1 0 12.95,-4.90" fill="none" stroke="#000" stroke-width="3.5" stroke-linecap="butt" stroke-linejoin="miter" stroke-miterlimit="6"/><path transform="translate(517.68,342.00)" d="M1.75,-8.35A6.25,6.90 0 1 0 14.25,-8.35A6.25,6.90 0 1 0 1.75,-8.35ZM14.25,-16.70V0.00" fill="none" stroke="#000" stroke-width="3.5" stroke-linecap="butt" stroke-linejoin="miter" stroke-miterlimit="6"/><path transform="translate(537.37,342.00)" d="M9.9,-13.2C9.1,-14.6 7.6,-15.25 5.7,-15.25C3.4,-15.25 1.9,-13.9 1.9,-12.0C1.9,-9.8 3.9,-9.1 5.6,-8.5C7.6,-7.8 9.5,-7 9.5,-4.7C9.5,-2.6 7.8,-1.45 5.5,-1.45C3.5,-1.45 1.9,-2.5 1.2,-4.1" fill="none" stroke="#000" stroke-width="3.5" stroke-linecap="butt" stroke-linejoin="miter" stroke-miterlimit="6"/><path transform="translate(552.26,342.00)" d="M1.75,-16.70V-7.20M1.75,-7.20C1.75,-2.96 4.00,-1.55 6.75,-1.55C9.50,-1.55 11.75,-2.96 11.75,-7.20M11.75,-16.70V0.00" fill="none" stroke="#000" stroke-width="3.5" stroke-linecap="butt" stroke-linejoin="miter" stroke-miterlimit="6"/><path transform="translate(570.46,342.00)" d="M1.75,-16.70V0.00M1.75,-10.00C2.05,-13.60 4.20,-15.15 7.00,-15.15C8.10,-15.15 9.00,-15.00 9.90,-14.50" fill="none" stroke="#000" stroke-width="3.5" stroke-linecap="butt" stroke-linejoin="miter" stroke-miterlimit="6"/><path transform="translate(582.75,342.00)" d="M1.75,-8.00H13.73M13.73,-8.00A6.00,6.90 0 1 0 12.95,-4.90" fill="none" stroke="#000" stroke-width="3.5" stroke-linecap="butt" stroke-linejoin="miter" stroke-miterlimit="6"/>
<path transform="translate(611.50,342.00)" d="M1.75,-8.35A6.25,6.90 0 1 0 14.25,-8.35A6.25,6.90 0 1 0 1.75,-8.35ZM14.25,-16.70V0.00" fill="none" stroke="#000" stroke-width="3.5" stroke-linecap="butt" stroke-linejoin="miter" stroke-miterlimit="6"/><path transform="translate(632.08,342.00)" d="M1.75,-16.70V0.00M1.75,-10.00C2.05,-13.60 4.20,-15.15 7.00,-15.15C8.10,-15.15 9.00,-15.00 9.90,-14.50" fill="none" stroke="#000" stroke-width="3.5" stroke-linecap="butt" stroke-linejoin="miter" stroke-miterlimit="6"/><path transform="translate(644.26,342.00)" d="M1.75,-8.35A6.65,6.90 0 1 0 15.05,-8.35A6.65,6.90 0 1 0 1.75,-8.35Z" fill="none" stroke="#000" stroke-width="3.5" stroke-linecap="butt" stroke-linejoin="miter" stroke-miterlimit="6"/><path transform="translate(664.94,342.00)" d="M1.75,-16.70V-7.20M1.75,-7.20C1.75,-2.96 4.00,-1.55 6.75,-1.55C9.50,-1.55 11.75,-2.96 11.75,-7.20M11.75,-16.70V0.00" fill="none" stroke="#000" stroke-width="3.5" stroke-linecap="butt" stroke-linejoin="miter" stroke-miterlimit="6"/><path transform="translate(683.02,342.00)" d="M1.75,-16.70V0.00M1.75,-9.50C1.75,-13.74 4.04,-15.15 6.85,-15.15C9.65,-15.15 11.95,-13.74 11.95,-9.50M11.95,-9.50V0.00" fill="none" stroke="#000" stroke-width="3.5" stroke-linecap="butt" stroke-linejoin="miter" stroke-miterlimit="6"/><path transform="translate(700.60,342.00)" d="M1.75,-8.35A6.55,6.90 0 1 0 14.85,-8.35A6.55,6.90 0 1 0 1.75,-8.35ZM14.85,-27.30V0.00" fill="none" stroke="#000" stroke-width="3.5" stroke-linecap="butt" stroke-linejoin="miter" stroke-miterlimit="6"/>
<path transform="translate(731.00,342.00)" d="M4.00,-21.80V0.00M0.00,-14.95H8.00" fill="none" stroke="#000" stroke-width="3.5" stroke-linecap="butt" stroke-linejoin="miter" stroke-miterlimit="6"/><path transform="translate(742.10,342.00)" d="M1.75,-27.30V0.00M1.75,-9.50C1.75,-13.74 4.11,-15.15 7.00,-15.15C9.89,-15.15 12.25,-13.74 12.25,-9.50M12.25,-9.50V0.00" fill="none" stroke="#000" stroke-width="3.5" stroke-linecap="butt" stroke-linejoin="miter" stroke-miterlimit="6"/><path transform="translate(760.00,342.00)" d="M1.75,-8.00H13.73M13.73,-8.00A6.00,6.90 0 1 0 12.95,-4.90" fill="none" stroke="#000" stroke-width="3.5" stroke-linecap="butt" stroke-linejoin="miter" stroke-miterlimit="6"/>
<path transform="translate(788.50,342.00)" d="M1.75,-16.70V0.00M1.75,-9.50C1.75,-13.74 4.04,-15.15 6.85,-15.15C9.65,-15.15 11.95,-13.74 11.95,-9.50M11.95,-9.50V0.00" fill="none" stroke="#000" stroke-width="3.5" stroke-linecap="butt" stroke-linejoin="miter" stroke-miterlimit="6"/><path transform="translate(806.06,342.00)" d="M1.75,-8.35A6.25,6.90 0 1 0 14.25,-8.35A6.25,6.90 0 1 0 1.75,-8.35ZM14.25,-16.70V0.00" fill="none" stroke="#000" stroke-width="3.5" stroke-linecap="butt" stroke-linejoin="miter" stroke-miterlimit="6"/><path transform="translate(826.62,342.00)" d="M1.75,-16.70V0.00M1.75,-10.00C2.05,-13.60 4.20,-15.15 7.00,-15.15C8.10,-15.15 9.00,-15.00 9.90,-14.50" fill="none" stroke="#000" stroke-width="3.5" stroke-linecap="butt" stroke-linejoin="miter" stroke-miterlimit="6"/><path transform="translate(839.49,342.00)" d="M1.75,-16.70V0.00M1.75,-10.00C2.05,-13.60 4.20,-15.15 7.00,-15.15C8.10,-15.15 9.00,-15.00 9.90,-14.50" fill="none" stroke="#000" stroke-width="3.5" stroke-linecap="butt" stroke-linejoin="miter" stroke-miterlimit="6"/><path transform="translate(851.65,342.00)" d="M1.75,-8.35A6.65,6.90 0 1 0 15.05,-8.35A6.65,6.90 0 1 0 1.75,-8.35Z" fill="none" stroke="#000" stroke-width="3.5" stroke-linecap="butt" stroke-linejoin="miter" stroke-miterlimit="6"/><path transform="translate(870.61,342.00)" d="M0,-16.7H3.6L6.97,-5.64L10.65,-16.7H14.25L17.93,-5.64L21.3,-16.7H24.9L19.8,0H16.2L12.45,-11.3L8.7,0H5.1Z" fill="#000"/><path transform="translate(897.67,342.00)" d="M1.75,-8.00H13.73M13.73,-8.00A6.00,6.90 0 1 0 12.95,-4.90" fill="none" stroke="#000" stroke-width="3.5" stroke-linecap="butt" stroke-linejoin="miter" stroke-miterlimit="6"/><path transform="translate(915.84,342.00)" d="M9.9,-13.2C9.1,-14.6 7.6,-15.25 5.7,-15.25C3.4,-15.25 1.9,-13.9 1.9,-12.0C1.9,-9.8 3.9,-9.1 5.6,-8.5C7.6,-7.8 9.5,-7 9.5,-4.7C9.5,-2.6 7.8,-1.45 5.5,-1.45C3.5,-1.45 1.9,-2.5 1.2,-4.1" fill="none" stroke="#000" stroke-width="3.5" stroke-linecap="butt" stroke-linejoin="miter" stroke-miterlimit="6"/><path transform="translate(929.00,342.00)" d="M4.00,-21.80V0.00M0.00,-14.95H8.00" fill="none" stroke="#000" stroke-width="3.5" stroke-linecap="butt" stroke-linejoin="miter" stroke-miterlimit="6"/>
<path transform="translate(949.30,342.00)" d="M1.75,-16.70V8.30M1.75,-8.35A6.55,6.90 0 1 0 14.85,-8.35A6.55,6.90 0 1 0 1.75,-8.35Z" fill="none" stroke="#000" stroke-width="3.5" stroke-linecap="butt" stroke-linejoin="miter" stroke-miterlimit="6"/><path transform="translate(969.60,342.00)" d="M1.75,-8.35A6.25,6.90 0 1 0 14.25,-8.35A6.25,6.90 0 1 0 1.75,-8.35ZM14.25,-16.70V0.00" fill="none" stroke="#000" stroke-width="3.5" stroke-linecap="butt" stroke-linejoin="miter" stroke-miterlimit="6"/><path transform="translate(990.70,342.00)" d="M1.75,-16.70V0.00M1.75,-10.00C2.05,-13.60 4.20,-15.15 7.00,-15.15C8.10,-15.15 9.00,-15.00 9.90,-14.50" fill="none" stroke="#000" stroke-width="3.5" stroke-linecap="butt" stroke-linejoin="miter" stroke-miterlimit="6"/><path transform="translate(1002.50,342.00)" d="M4.00,-21.80V0.00M0.00,-14.95H8.00" fill="none" stroke="#000" stroke-width="3.5" stroke-linecap="butt" stroke-linejoin="miter" stroke-miterlimit="6"/>
<path transform="translate(644.80,420.40)" d="M0.00,-26.60H6.80V0.00H0.00Z" fill="#000"/><path transform="translate(655.92,420.40)" d="M0.00,-17.40H6.00V0.00H0.00ZM11.70,-9.50H17.70V0.00H11.70ZM0.00,-9.50C0.00,-14.90 3.54,-17.70 8.85,-17.70C14.16,-17.70 17.70,-14.90 17.70,-9.50H11.70C11.70,-11.80 10.84,-13.20 8.85,-13.20C6.86,-13.20 6.00,-11.80 6.00,-9.50Z" fill="#000"/><path transform="translate(676.94,420.40)" d="M13.7,-13.0C12.7,-14.8 10.7,-15.55 7.8,-15.55C4.6,-15.55 2.7,-14.2 2.7,-12.3C2.7,-10.2 4.7,-9.5 7.5,-8.95C10.5,-8.4 12.5,-7.8 12.5,-5.6C12.5,-3.4 10.5,-2.35 7.3,-2.35C4.5,-2.35 2.4,-3.4 1.2,-5.3" fill="none" stroke="#000" stroke-width="4.8"/><path transform="translate(695.26,420.40)" d="M0.00,-17.10H6.50V0.00H0.00ZM-0.40,-23.80a3.65,3.65 0 1 0 7.30,0a3.65,3.65 0 1 0 -7.30,0Z" fill="#000"/><path transform="translate(705.38,420.40)" d="M0.00,-8.75a9.40,9.05 0 1 0 18.80,0a9.40,9.05 0 1 0 -18.80,0Z" fill="#000"/><path transform="translate(705.38,420.40)" d="M4.80,-8.40a4.55,4.30 0 1 0 9.10,0a4.55,4.30 0 1 0 -9.10,0Z" fill="#fff"/><path transform="translate(705.38,420.40)" d="M14.10,-28.00H20.10V0.00H14.10Z" fill="#000"/><path transform="translate(729.10,420.40)" d="M0.00,-8.85a9.30,9.00 0 1 0 18.60,0a9.30,9.00 0 1 0 -18.60,0Z" fill="#000"/><path transform="translate(729.10,420.40)" d="M6.4,-11.2A3.3,2.4 0 0 1 13.0,-11.2Z" fill="#fff"/><path transform="translate(729.10,420.40)" d="M9.7,-7.1H18.9V-3.7H9.7A3.3,1.7 0 0 1 9.7,-7.1Z" fill="#fff"/>
<path transform="translate(763.10,420.40)" d="M0,-26.6H6.6V-5.5H14.4V0H0Z" fill="#000"/><path transform="translate(779.83,420.40)" d="M0.00,-8.85a9.30,9.00 0 1 0 18.60,0a9.30,9.00 0 1 0 -18.60,0Z" fill="#000"/><path transform="translate(779.83,420.40)" d="M6.4,-11.2A3.3,2.4 0 0 1 13.0,-11.2Z" fill="#fff"/><path transform="translate(779.83,420.40)" d="M9.7,-7.1H18.9V-3.7H9.7A3.3,1.7 0 0 1 9.7,-7.1Z" fill="#fff"/><path transform="translate(801.37,420.40)" d="M0.00,-8.75a9.20,9.05 0 1 0 18.40,0a9.20,9.05 0 1 0 -18.40,0Z" fill="#000"/><path transform="translate(801.37,420.40)" d="M4.70,-8.60a4.45,4.30 0 1 0 8.90,0a4.45,4.30 0 1 0 -8.90,0Z" fill="#fff"/><path transform="translate(801.37,420.40)" d="M13.90,-17.40H19.90V0.50H13.90ZM19.9,0V1.5C19.9,6.2 16.3,8.2 10.3,8.2C6.5,8.2 3.3,7.1 0.8,4.8L3.6,1.5C5.3,2.9 7.6,3.6 10.2,3.6C12.7,3.6 13.9,2.6 13.9,0.8V0Z" fill="#000"/><path transform="translate(825.00,420.40)" d="M0.05,-14.70a3.95,3.95 0 1 0 7.90,0a3.95,3.95 0 1 0 -7.90,0ZM0.05,-3.60a3.95,3.95 0 1 0 7.90,0a3.95,3.95 0 1 0 -7.90,0Z" fill="#000"/>
<path transform="translate(472.25,460.30)" d="M0,0L5.46,-26.4L14.16,-7.6L23.2,-26.4L27.84,0L24.0,0L21.6,-14.2L14.16,1.1L6.95,-14.2L4.64,0Z" fill="#000"/><path transform="translate(503.08,460.30)" d="M1.75,-8.00H13.73M13.73,-8.00A6.00,6.90 0 1 0 12.95,-4.90" fill="none" stroke="#000" stroke-width="3.5" stroke-linecap="butt" stroke-linejoin="miter" stroke-miterlimit="6"/><path transform="translate(521.68,460.30)" d="M1.75,-8.35A6.25,6.90 0 1 0 14.25,-8.35A6.25,6.90 0 1 0 1.75,-8.35ZM14.25,-16.70V0.00" fill="none" stroke="#000" stroke-width="3.5" stroke-linecap="butt" stroke-linejoin="miter" stroke-miterlimit="6"/><path transform="translate(541.37,460.30)" d="M9.9,-13.2C9.1,-14.6 7.6,-15.25 5.7,-15.25C3.4,-15.25 1.9,-13.9 1.9,-12.0C1.9,-9.8 3.9,-9.1 5.6,-8.5C7.6,-7.8 9.5,-7 9.5,-4.7C9.5,-2.6 7.8,-1.45 5.5,-1.45C3.5,-1.45 1.9,-2.5 1.2,-4.1" fill="none" stroke="#000" stroke-width="3.5" stroke-linecap="butt" stroke-linejoin="miter" stroke-miterlimit="6"/><path transform="translate(556.26,460.30)" d="M1.75,-16.70V-7.20M1.75,-7.20C1.75,-2.96 4.00,-1.55 6.75,-1.55C9.50,-1.55 11.75,-2.96 11.75,-7.20M11.75,-16.70V0.00" fill="none" stroke="#000" stroke-width="3.5" stroke-linecap="butt" stroke-linejoin="miter" stroke-miterlimit="6"/><path transform="translate(574.46,460.30)" d="M1.75,-16.70V0.00M1.75,-10.00C2.05,-13.60 4.20,-15.15 7.00,-15.15C8.10,-15.15 9.00,-15.00 9.90,-14.50" fill="none" stroke="#000" stroke-width="3.5" stroke-linecap="butt" stroke-linejoin="miter" stroke-miterlimit="6"/><path transform="translate(586.75,460.30)" d="M1.75,-8.00H13.73M13.73,-8.00A6.00,6.90 0 1 0 12.95,-4.90" fill="none" stroke="#000" stroke-width="3.5" stroke-linecap="butt" stroke-linejoin="miter" stroke-miterlimit="6"/>
<path transform="translate(616.00,460.30)" d="M2.9,0V-20.5C2.9,-24 4.3,-25.55 6.8,-25.55H9.3M0.30,-14.95H8.60" fill="none" stroke="#000" stroke-width="3.5" stroke-linecap="butt" stroke-linejoin="miter" stroke-miterlimit="6"/><path transform="translate(627.30,460.30)" d="M1.75,-16.70V0.00M1.75,-10.00C2.05,-13.60 4.20,-15.15 7.00,-15.15C8.10,-15.15 9.00,-15.00 9.90,-14.50" fill="none" stroke="#000" stroke-width="3.5" stroke-linecap="butt" stroke-linejoin="miter" stroke-miterlimit="6"/><path transform="translate(638.70,460.30)" d="M1.75,-8.35A6.65,6.90 0 1 0 15.05,-8.35A6.65,6.90 0 1 0 1.75,-8.35Z" fill="none" stroke="#000" stroke-width="3.5" stroke-linecap="butt" stroke-linejoin="miter" stroke-miterlimit="6"/><path transform="translate(658.60,460.30)" d="M1.75,-16.70V0.00M1.75,-10.00C1.75,-13.86 3.88,-15.15 6.47,-15.15C9.07,-15.15 11.20,-13.86 11.20,-10.00M11.20,-10.00V0.00M11.20,-10.00C11.20,-13.86 13.33,-15.15 15.92,-15.15C18.52,-15.15 20.65,-13.86 20.65,-10.00M20.65,-10.00V0.00" fill="none" stroke="#000" stroke-width="3.5" stroke-linecap="butt" stroke-linejoin="miter" stroke-miterlimit="6"/>
<path transform="translate(694.75,460.30)" d="M12.49,-13.64A6.60,6.90 0 1 0 12.49,-3.06" fill="none" stroke="#000" stroke-width="3.5" stroke-linecap="butt" stroke-linejoin="miter" stroke-miterlimit="6"/><path transform="translate(711.88,460.30)" d="M1.75,-16.70V0.00M1.75,-10.00C2.05,-13.60 4.20,-15.15 7.00,-15.15C8.10,-15.15 9.00,-15.00 9.90,-14.50" fill="none" stroke="#000" stroke-width="3.5" stroke-linecap="butt" stroke-linejoin="miter" stroke-miterlimit="6"/><path transform="translate(724.01,460.30)" d="M1.75,-8.35A6.65,6.90 0 1 0 15.05,-8.35A6.65,6.90 0 1 0 1.75,-8.35Z" fill="none" stroke="#000" stroke-width="3.5" stroke-linecap="butt" stroke-linejoin="miter" stroke-miterlimit="6"/><path transform="translate(743.04,460.30)" d="M4.00,-21.80V0.00M0.00,-14.95H8.00" fill="none" stroke="#000" stroke-width="3.5" stroke-linecap="butt" stroke-linejoin="miter" stroke-miterlimit="6"/><path transform="translate(753.37,460.30)" d="M12.49,-13.64A6.60,6.90 0 1 0 12.49,-3.06" fill="none" stroke="#000" stroke-width="3.5" stroke-linecap="butt" stroke-linejoin="miter" stroke-miterlimit="6"/><path transform="translate(770.50,460.30)" d="M1.75,-27.30V0.00M1.75,-9.50C1.75,-13.74 4.11,-15.15 7.00,-15.15C9.89,-15.15 12.25,-13.74 12.25,-9.50M12.25,-9.50V0.00" fill="none" stroke="#000" stroke-width="3.5" stroke-linecap="butt" stroke-linejoin="miter" stroke-miterlimit="6"/>
<path transform="translate(798.75,460.30)" d="M4.00,-21.80V0.00M0.00,-14.95H8.00" fill="none" stroke="#000" stroke-width="3.5" stroke-linecap="butt" stroke-linejoin="miter" stroke-miterlimit="6"/><path transform="translate(809.45,460.30)" d="M1.75,-8.35A6.65,6.90 0 1 0 15.05,-8.35A6.65,6.90 0 1 0 1.75,-8.35Z" fill="none" stroke="#000" stroke-width="3.5" stroke-linecap="butt" stroke-linejoin="miter" stroke-miterlimit="6"/>
<path transform="translate(838.50,460.30)" d="M1.75,-8.35A6.25,6.90 0 1 0 14.25,-8.35A6.25,6.90 0 1 0 1.75,-8.35ZM14.25,-16.70V0.00" fill="none" stroke="#000" stroke-width="3.5" stroke-linecap="butt" stroke-linejoin="miter" stroke-miterlimit="6"/><path transform="translate(859.15,460.30)" d="M1.75,-16.70V0.00M1.75,-9.50C1.75,-13.74 4.04,-15.15 6.85,-15.15C9.65,-15.15 11.95,-13.74 11.95,-9.50M11.95,-9.50V0.00" fill="none" stroke="#000" stroke-width="3.5" stroke-linecap="butt" stroke-linejoin="miter" stroke-miterlimit="6"/><path transform="translate(877.50,460.30)" d="M1.75,-27.30V0.00M13.6,-16.7L3.2,-6.3M6.6,-9.8L14.2,0" fill="none" stroke="#000" stroke-width="3.5" stroke-linecap="butt" stroke-linejoin="miter" stroke-miterlimit="6"/><path transform="translate(895.05,460.30)" d="M1.75,-27.30V0.00" fill="none" stroke="#000" stroke-width="3.5" stroke-linecap="butt" stroke-linejoin="miter" stroke-miterlimit="6"/><path transform="translate(902.30,460.30)" d="M1.75,-8.00H13.73M13.73,-8.00A6.00,6.90 0 1 0 12.95,-4.90" fill="none" stroke="#000" stroke-width="3.5" stroke-linecap="butt" stroke-linejoin="miter" stroke-miterlimit="6"/>
<path transform="translate(931.30,460.30)" d="M1.75,-27.30V0.00M1.75,-8.35A6.55,6.90 0 1 0 14.85,-8.35A6.55,6.90 0 1 0 1.75,-8.35Z" fill="none" stroke="#000" stroke-width="3.5" stroke-linecap="butt" stroke-linejoin="miter" stroke-miterlimit="6"/><path transform="translate(951.33,460.30)" d="M1.75,-8.35A6.65,6.90 0 1 0 15.05,-8.35A6.65,6.90 0 1 0 1.75,-8.35Z" fill="none" stroke="#000" stroke-width="3.5" stroke-linecap="butt" stroke-linejoin="miter" stroke-miterlimit="6"/><path transform="translate(972.27,460.30)" d="M1.75,-16.70V0.00M1.75,-9.50C1.75,-13.74 4.04,-15.15 6.85,-15.15C9.65,-15.15 11.95,-13.74 11.95,-9.50M11.95,-9.50V0.00" fill="none" stroke="#000" stroke-width="3.5" stroke-linecap="butt" stroke-linejoin="miter" stroke-miterlimit="6"/><path transform="translate(990.10,460.30)" d="M1.75,-8.00H13.73M13.73,-8.00A6.00,6.90 0 1 0 12.95,-4.90" fill="none" stroke="#000" stroke-width="3.5" stroke-linecap="butt" stroke-linejoin="miter" stroke-miterlimit="6"/>
<rect x="462" y="252" width="552.5" height="3" fill="#000"/>
<rect x="463" y="372.5" width="551.5" height="3" fill="#000"/>
</svg>
</body></html>
